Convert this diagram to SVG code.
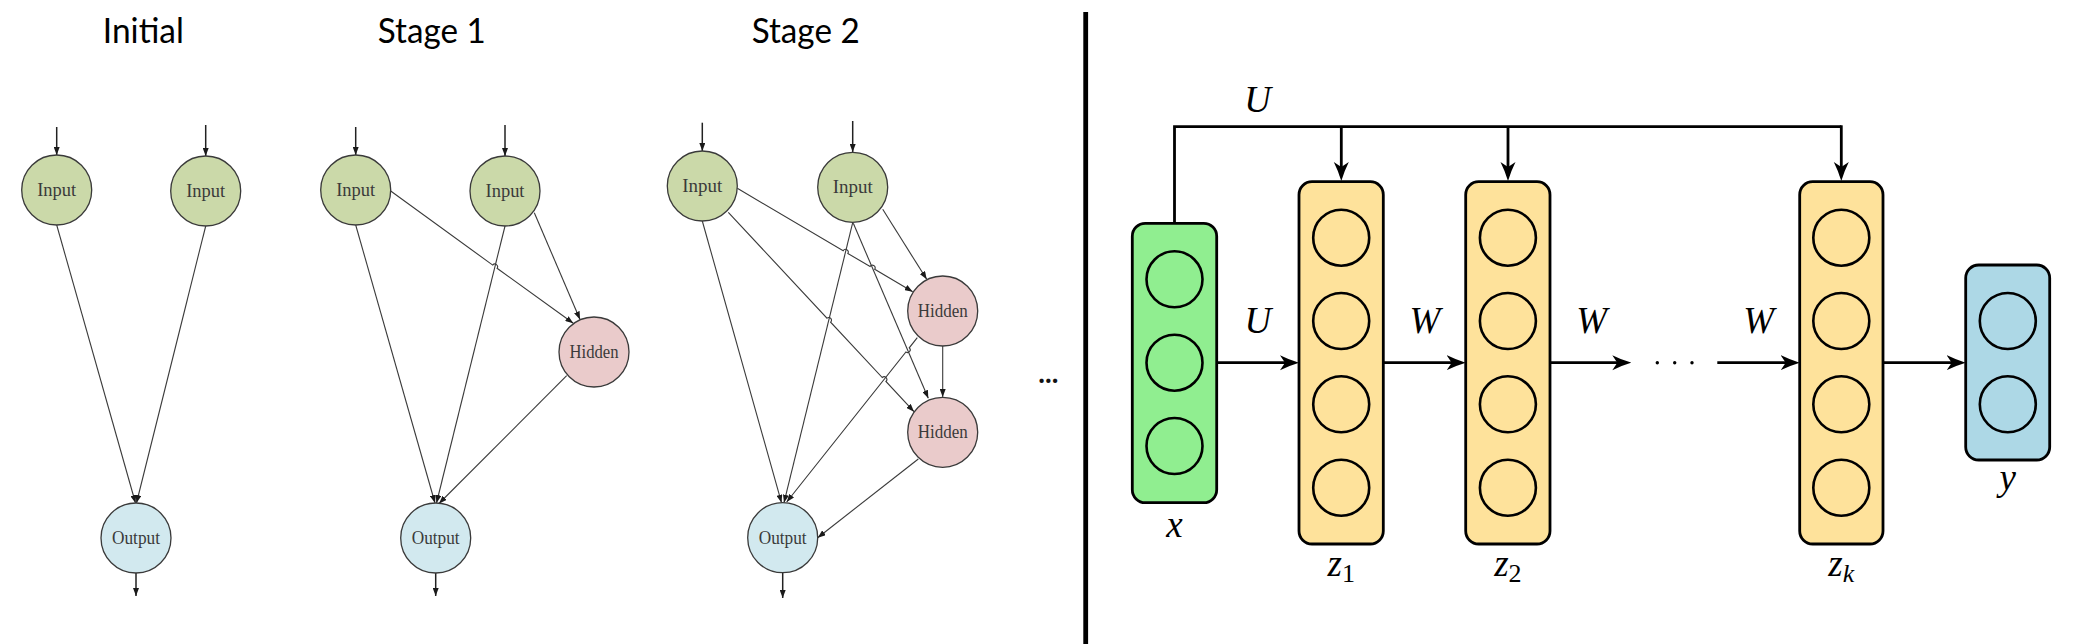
<svg xmlns="http://www.w3.org/2000/svg" width="2078" height="644" viewBox="0 0 2078 644">
<style>
.title{font-family:Lato,"Open Sans","Liberation Sans",sans-serif;font-size:34px;fill:#000;text-anchor:middle}
.nt{font-family:"Liberation Serif",serif;font-size:18px;fill:#3a3a3a;text-anchor:middle}
.in{fill:#cbd9a9;stroke:#3a3a3a;stroke-width:1.3}
.hid{fill:#eacbcb;stroke:#3a3a3a;stroke-width:1.3}
.out{fill:#d2e9ef;stroke:#3a3a3a;stroke-width:1.3}
.e{stroke:#3a3a3a;stroke-width:1.1;fill:none;marker-end:url(#ah)}
.io{stroke:#222;stroke-width:1.5;fill:none;marker-end:url(#ah)}
.box{stroke:#000;stroke-width:2.8}
.neu{fill:none;stroke:#000;stroke-width:2.6}
.c{stroke:#000;stroke-width:2.8;fill:none}
.ca{stroke:#000;stroke-width:2.8;fill:none;marker-end:url(#st)}
.m{font-family:"Liberation Serif","DejaVu Serif",serif;font-style:italic;font-size:37px;fill:#000;text-anchor:middle}
.sub{font-family:"Liberation Serif","DejaVu Serif",serif;font-size:26px}
</style>
<defs>
<marker id="ah" viewBox="0 0 8 6" refX="8" refY="3" markerWidth="8" markerHeight="6" orient="auto" markerUnits="userSpaceOnUse"><path d="M0,0 L8,3 L0,6 z" fill="#1a1a1a"/></marker>
<marker id="st" viewBox="0 0 19 16" refX="14" refY="8" markerWidth="19" markerHeight="16" orient="auto" markerUnits="userSpaceOnUse"><path d="M0,0.5 Q9,5 19,8 Q9,11 0,15.5 L5,8 z" fill="#000"/></marker>
</defs>
<rect width="2078" height="644" fill="#fff"/>

<text class="title" x="143.3" y="42.7" textLength="81" lengthAdjust="spacingAndGlyphs">Initial</text>
<text class="title" x="431.8" y="42.7" textLength="108" lengthAdjust="spacingAndGlyphs">Stage 1</text>
<text class="title" x="805.7" y="42.7" textLength="108" lengthAdjust="spacingAndGlyphs">Stage 2</text>

<g id="connectors-left">
<!-- Initial -->
<line class="io" x1="56.7" y1="127" x2="56.7" y2="155"/>
<line class="io" x1="205.7" y1="125" x2="205.7" y2="156"/>
<line class="e" x1="56.7" y1="225" x2="135.5" y2="503"/>
<line class="e" x1="205.7" y1="226" x2="136.5" y2="503"/>
<line class="io" x1="136" y1="573" x2="136" y2="596"/>
<!-- Stage 1 -->
<line class="io" x1="355.7" y1="127" x2="355.7" y2="155"/>
<line class="io" x1="505" y1="125" x2="505" y2="156"/>
<line class="e" x1="355.7" y1="225" x2="435" y2="503"/>
<path class="e" d="M390.7,191 L492.72,265.11 A2.7,2.7 0 0 1 497.08,268.29 L573.3,323.3"/>
<line class="e" x1="505" y1="226" x2="436.5" y2="503"/>
<line class="e" x1="534.3" y1="212.7" x2="580" y2="319.5"/>
<line class="e" x1="566.7" y1="375.7" x2="439" y2="503.5"/>
<line class="io" x1="435.7" y1="573" x2="435.7" y2="596"/>
<!-- Stage 2 -->
<line class="io" x1="702.3" y1="122.7" x2="702.3" y2="151"/>
<line class="io" x1="852.7" y1="121" x2="852.7" y2="152"/>
<line class="e" x1="702.3" y1="221" x2="781.5" y2="502.7"/>
<path class="e" d="M737.3,188.3 L843.17,250.73 A2.7,2.7 0 0 1 847.83,253.47 L870.07,266.53 A2.7,2.7 0 0 1 874.73,269.27 L912.7,291.7"/>
<path class="e" d="M728.3,212.3 L826.96,318.22 A2.7,2.7 0 0 1 830.64,322.18 L882.26,377.52 A2.7,2.7 0 0 1 885.94,381.48 L914,411.7"/>
<line class="e" x1="852.7" y1="222.7" x2="784" y2="502.7"/>
<line class="e" x1="882.7" y1="209.3" x2="926.7" y2="279.3"/>
<line class="e" x1="853.3" y1="223.3" x2="928.3" y2="398.3"/>
<line class="e" x1="942.7" y1="346" x2="942.7" y2="397"/>
<path class="e" d="M917.3,337.7 L909.28,347.79 A2.7,2.7 0 0 1 905.92,352.01 L786.7,502"/>
<line class="e" x1="918.3" y1="459" x2="817.7" y2="537.7"/>
<line class="io" x1="782.7" y1="573" x2="782.7" y2="598"/>
</g>

<g id="initial-input-1"><circle class="in" cx="56.7" cy="190" r="35"/><text class="nt" x="56.7" y="196" textLength="39" lengthAdjust="spacingAndGlyphs">Input</text></g>
<g id="initial-input-2"><circle class="in" cx="205.7" cy="191" r="35"/><text class="nt" x="205.7" y="197" textLength="39" lengthAdjust="spacingAndGlyphs">Input</text></g>
<g id="initial-output"><circle class="out" cx="136" cy="538" r="35"/><text class="nt" x="136" y="544" textLength="48" lengthAdjust="spacingAndGlyphs">Output</text></g>

<g id="stage1-input-1"><circle class="in" cx="355.7" cy="190" r="35"/><text class="nt" x="355.7" y="196" textLength="39" lengthAdjust="spacingAndGlyphs">Input</text></g>
<g id="stage1-input-2"><circle class="in" cx="505" cy="191" r="35"/><text class="nt" x="505" y="197" textLength="39" lengthAdjust="spacingAndGlyphs">Input</text></g>
<g id="stage1-hidden"><circle class="hid" cx="594" cy="352" r="35"/><text class="nt" x="594" y="358" textLength="49" lengthAdjust="spacingAndGlyphs">Hidden</text></g>
<g id="stage1-output"><circle class="out" cx="435.7" cy="538" r="35"/><text class="nt" x="435.7" y="544" textLength="48" lengthAdjust="spacingAndGlyphs">Output</text></g>

<g id="stage2-input-1"><circle class="in" cx="702.3" cy="186" r="35"/><text class="nt" x="702.3" y="192" textLength="40" lengthAdjust="spacingAndGlyphs">Input</text></g>
<g id="stage2-input-2"><circle class="in" cx="852.7" cy="187.3" r="35"/><text class="nt" x="852.7" y="193.3" textLength="40" lengthAdjust="spacingAndGlyphs">Input</text></g>
<g id="stage2-hidden-1"><circle class="hid" cx="942.7" cy="311" r="35"/><text class="nt" x="942.7" y="317" textLength="50" lengthAdjust="spacingAndGlyphs">Hidden</text></g>
<g id="stage2-hidden-2"><circle class="hid" cx="942.7" cy="432.3" r="35"/><text class="nt" x="942.7" y="438.3" textLength="50" lengthAdjust="spacingAndGlyphs">Hidden</text></g>
<g id="stage2-output"><circle class="out" cx="782.7" cy="537.7" r="35"/><text class="nt" x="782.7" y="543.7" textLength="48" lengthAdjust="spacingAndGlyphs">Output</text></g>

<text x="1048.3" y="383" font-family="Lato,'Liberation Sans',sans-serif" font-weight="bold" font-size="28" fill="#111" text-anchor="middle" textLength="20" lengthAdjust="spacingAndGlyphs">...</text>

<rect id="divider" x="1083.3" y="12" width="4.8" height="632" fill="#000"/>

<g id="connectors-right">
<path class="c" d="M1174.5,223.3 V126.7 H1841.3"/>
<line class="ca" x1="1341.3" y1="126.7" x2="1341.3" y2="176"/>
<line class="ca" x1="1508" y1="126.7" x2="1508" y2="176"/>
<line class="ca" x1="1841.3" y1="125.3" x2="1841.3" y2="176"/>
<line class="ca" x1="1216.7" y1="362.7" x2="1294" y2="362.7"/>
<line class="ca" x1="1383.3" y1="362.7" x2="1460.7" y2="362.7"/>
<line class="ca" x1="1550" y1="362.7" x2="1626.3" y2="362.7"/>
<line class="ca" x1="1717.3" y1="362.7" x2="1794.7" y2="362.7"/>
<line class="ca" x1="1883" y1="362.7" x2="1960.7" y2="362.7"/>
<circle cx="1657.3" cy="362.7" r="1.7" fill="#000"/>
<circle cx="1674.7" cy="362.7" r="1.7" fill="#000"/>
<circle cx="1692" cy="362.7" r="1.7" fill="#000"/>
</g>

<text class="m" x="1257.5" y="111.5">U</text>
<text class="m" x="1257.8" y="333.3">U</text>
<text class="m" x="1425" y="333.3">W</text>
<text class="m" x="1591.6" y="333.3">W</text>
<text class="m" x="1758.7" y="333.3">W</text>

<g id="layer-x">
<rect class="box" x="1132.3" y="223.3" width="84.4" height="279.4" rx="13" fill="#90ee90"/>
<circle class="neu" cx="1174.5" cy="279.3" r="28"/>
<circle class="neu" cx="1174.5" cy="362.7" r="28"/>
<circle class="neu" cx="1174.5" cy="446" r="28"/>
<text class="m" x="1174.5" y="537">x</text>
</g>
<g id="layer-z1">
<rect class="box" x="1299" y="181.7" width="84.3" height="362.3" rx="13" fill="#fee29b"/>
<circle class="neu" cx="1341.2" cy="237.7" r="28"/>
<circle class="neu" cx="1341.2" cy="321" r="28"/>
<circle class="neu" cx="1341.2" cy="404.3" r="28"/>
<circle class="neu" cx="1341.2" cy="487.7" r="28"/>
<text class="m" x="1341.2" y="576">z<tspan class="sub" style="font-style:normal" dy="6">1</tspan></text>
</g>
<g id="layer-z2">
<rect class="box" x="1465.7" y="181.7" width="84.3" height="362.3" rx="13" fill="#fee29b"/>
<circle class="neu" cx="1507.9" cy="237.7" r="28"/>
<circle class="neu" cx="1507.9" cy="321" r="28"/>
<circle class="neu" cx="1507.9" cy="404.3" r="28"/>
<circle class="neu" cx="1507.9" cy="487.7" r="28"/>
<text class="m" x="1507.9" y="576">z<tspan class="sub" style="font-style:normal" dy="6">2</tspan></text>
</g>
<g id="layer-zk">
<rect class="box" x="1799.7" y="181.7" width="83.3" height="362.3" rx="13" fill="#fee29b"/>
<circle class="neu" cx="1841.3" cy="237.7" r="28"/>
<circle class="neu" cx="1841.3" cy="321" r="28"/>
<circle class="neu" cx="1841.3" cy="404.3" r="28"/>
<circle class="neu" cx="1841.3" cy="487.7" r="28"/>
<text class="m" x="1841.3" y="576">z<tspan class="sub" style="font-style:italic" dy="6">k</tspan></text>
</g>
<g id="layer-y">
<rect class="box" x="1965.7" y="265" width="84" height="195" rx="13" fill="#add8e6"/>
<circle class="neu" cx="2007.8" cy="321" r="28"/>
<circle class="neu" cx="2007.8" cy="404.3" r="28"/>
<text class="m" x="2007.8" y="490">y</text>
</g>
</svg>
